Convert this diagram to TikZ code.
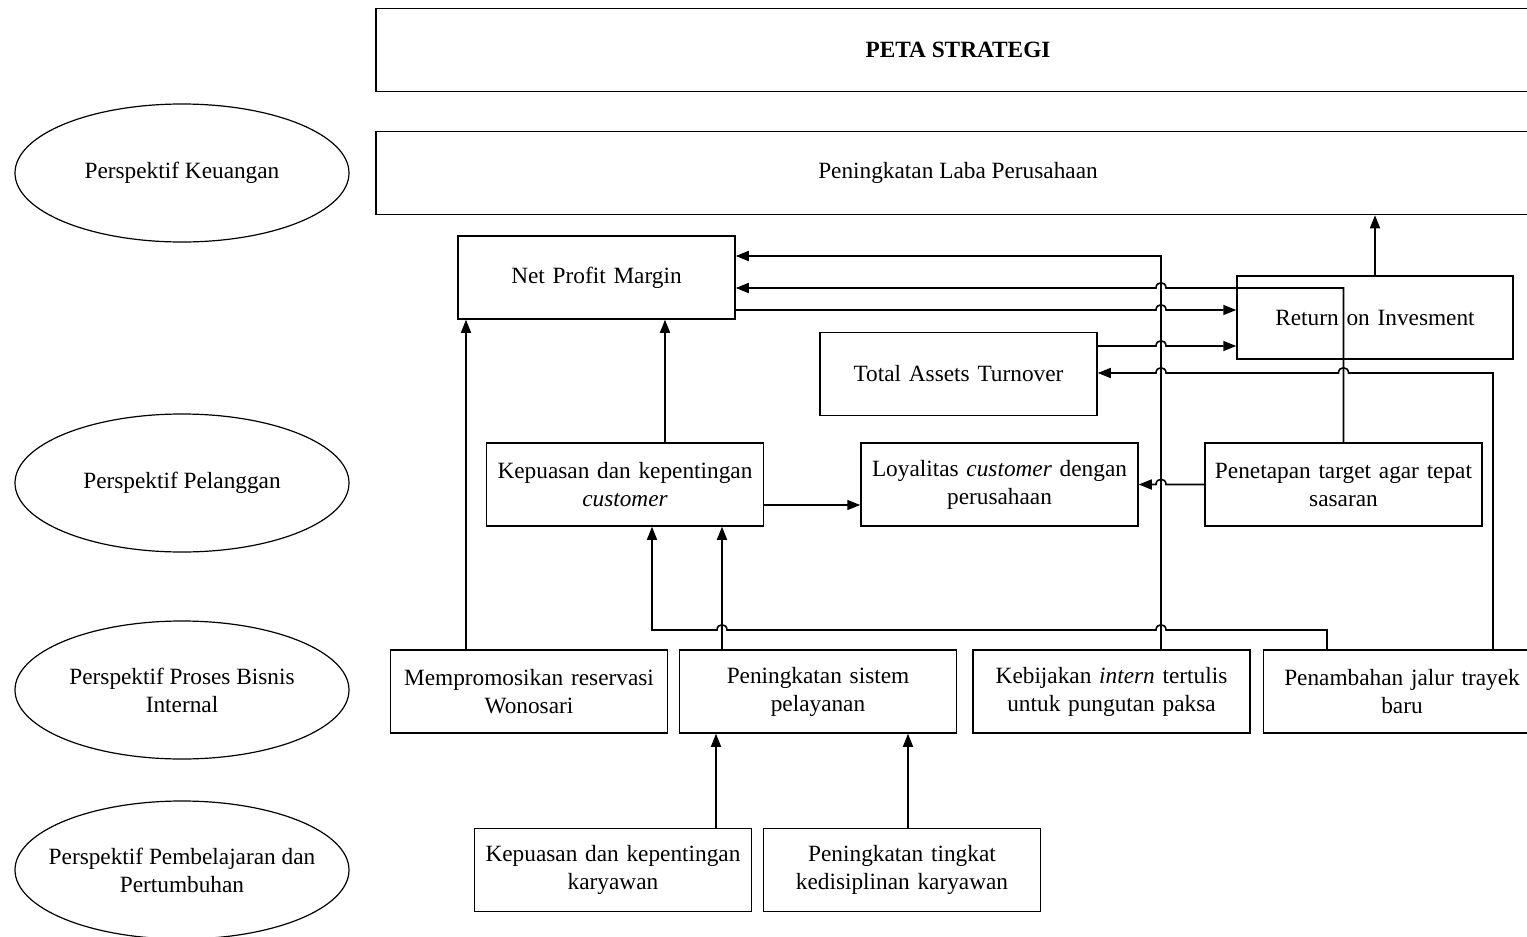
\documentclass[tikz,border=0pt]{standalone}
\usepackage{fontspec}
\setmainfont{Liberation Serif}
\usetikzlibrary{arrows.meta,shapes.geometric}

\begin{document}
\begin{tikzpicture}[x=1pt,y=-1pt,
  every node/.style={font=\fontsize{23.3}{28}\selectfont},
  box/.style={draw,line width=1.5pt,minimum width=277pt,minimum height=83pt,
    align=center,inner sep=0pt,text width=270pt},
  wide/.style={draw,line width=1.5pt,minimum width=1164pt,minimum height=83pt,
    align=center,inner sep=0pt},
  persp/.style={draw,line width=1.2pt,ellipse,minimum width=334pt,minimum height=138pt,
    align=center,inner xsep=-80pt,inner ysep=0pt},
  arr/.style={line width=1.6pt,-{Triangle[length=13pt,width=10pt]}},
  % small bridge where a line jumps over a crossing vertical line
  hopr/.style={to path={-- ([xshift=-5pt]\tikztotarget)
      .. controls ([xshift=-5pt,yshift=7pt]\tikztotarget) and ([xshift=5pt,yshift=7pt]\tikztotarget)
      .. ([xshift=5pt]\tikztotarget)}},
  hopl/.style={to path={-- ([xshift=5pt]\tikztotarget)
      .. controls ([xshift=5pt,yshift=7pt]\tikztotarget) and ([xshift=-5pt,yshift=7pt]\tikztotarget)
      .. ([xshift=-5pt]\tikztotarget)}}]

\useasboundingbox (0,0) rectangle (1527,937);
\begin{scope}
\clip (0,0) rectangle (1527,937);

% perspectives
\node[persp] (pk) at (182,173) {Perspektif Keuangan};
\node[persp] (pp) at (182,483) {Perspektif Pelanggan};
\node[persp] (pb) at (182,690) {Perspektif Proses Bisnis\\Internal};
\node[persp] (pt) at (182,870) {Perspektif Pembelajaran dan\\Pertumbuhan};

% headers
\node[wide] (peta) at (958,50) {\textbf{PETA STRATEGI}};
\node[wide] (laba) at (958,173) {Peningkatan Laba Perusahaan};

% financial
\node[box] (npm) at (596.5,277.5) {Net Profit Margin};
\node[box,minimum width=276pt] (roi) at (1375,317.5) {Return on Invesment};
\node[box] (tat) at (958.5,374) {Total Assets Turnover};

% customer
\node[box] (kc) at (625,484.5) {Kepuasan dan kepentingan\\\textit{customer}};
\node[box] (loy) at (999.5,484.5) {Loyalitas \textit{customer} dengan\\perusahaan};
\node[box] (pen) at (1343.5,484.5) {Penetapan target agar tepat\\sasaran};

% internal process
\node[box] (mem) at (529,691.5) {Mempromosikan reservasi\\Wonosari};
\node[box] (sis) at (818,691.5) {Peningkatan sistem\\pelayanan};
\node[box] (keb) at (1111.5,691.5) {Kebijakan \textit{intern} tertulis\\untuk pungutan paksa};
\node[box] (jal) at (1402,691.5) {Penambahan jalur trayek\\baru};

% learning and growth
\node[box] (kk) at (613,870) {Kepuasan dan kepentingan\\karyawan};
\node[box] (tk) at (902,870) {Peningkatan tingkat\\kedisiplinan karyawan};

% junction and crossing points
\coordinate (ja) at (1161,256);
\coordinate (jb) at (1343.5,288);
\coordinate (c288) at (1161,288);
\coordinate (c310) at (1161,310);
\coordinate (c346) at (1161,346);
\coordinate (je) at (1493,373);
\coordinate (d373) at (1343.5,373);
\coordinate (c373) at (1161,373);
\coordinate (c485) at (1161,484.5);
\coordinate (jl) at (1327,630);
\coordinate (c630) at (1161,630);
\coordinate (s630) at (722,630);
\coordinate (jm) at (652,630);

% connectors
\draw[arr] (keb.north -| ja) -- (ja) -- (npm.east |- ja);
\draw[arr] (pen.north) -- (jb) to[hopl] (c288) -- (npm.east |- jb);
\draw[arr] (npm.east |- c310) to[hopr] (c310) -- (roi.west |- c310);
\draw[arr] (tat.east |- c346) to[hopr] (c346) -- (roi.west |- c346);
\draw[arr] (jal.north -| je) -- (je) to[hopl] (d373) to[hopl] (c373) -- (tat.east |- c373);
\draw[arr] (roi.north) -- (laba.south -| roi.north);
\draw[arr] (pen.west) to[hopl] (c485) -- (loy.east);
\draw[arr] ([yshift=-20.5pt]kc.east) coordinate (h1) -- (h1 -| loy.west);
\draw[arr] ([xshift=40pt]kc.north) coordinate (i1) -- (i1 |- npm.south);
\draw[arr] ([xshift=-63pt]mem.north) coordinate (m1) -- (m1 |- npm.south);
\draw[arr] (sis.north -| s630) -- (kc.south -| s630);
\draw[arr] (jal.north -| jl) -- (jl) to[hopl] (c630) to[hopl] (s630) -- (jm) -- (kc.south -| jm);
\draw[arr] ([xshift=103pt]kk.north) coordinate (k1) -- (k1 |- sis.south);
\draw[arr] ([xshift=6pt]tk.north) coordinate (t1) -- (t1 |- sis.south);
\end{scope}
\end{tikzpicture}
\end{document}
